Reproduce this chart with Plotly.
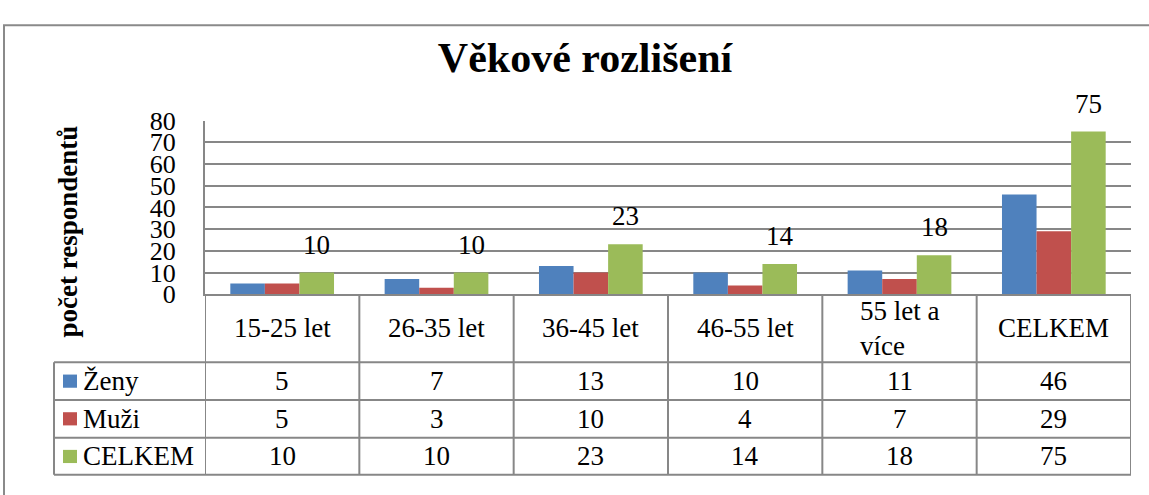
import plotly.graph_objects as go

# ---- data ----
categories = ["15-25 let", "26-35 let", "36-45 let", "46-55 let", "55 let a více", "CELKEM"]
header_labels = ["15-25 let", "26-35 let", "36-45 let", "46-55 let", "55 let a<br>více", "CELKEM"]
series_names = ["Ženy", "Muži", "CELKEM"]
zeny = [5, 7, 13, 10, 11, 46]
muzi = [5, 3, 10, 4, 7, 29]
celkem = [10, 10, 23, 14, 18, 75]
y_ticks = [0, 10, 20, 30, 40, 50, 60, 70, 80]

colors = ["#4F81BD", "#C0504D", "#9BBB59"]
series_values = [zeny, muzi, celkem]

W, H = 1149, 495
FONT = "Liberation Serif"
GRID = "#878787"

def px(x):
    return x / W

def py(y):
    return 1 - y / H

plot_x0, plot_x1 = 205, 1131
plot_y_top, plot_y_bot = 113.3, 297.7
bargap = 0.328

fig = go.Figure()
for name, vals, col in zip(series_names, series_values, colors):
    fig.add_trace(go.Bar(x=categories, y=vals, name=name, marker=dict(color=col, line=dict(width=0)),
                         showlegend=False, hoverinfo="x+y+name"))

# data labels for the CELKEM series (third bar of each group)
cat_w = (plot_x1 - plot_x0) / len(categories)
bar_w = cat_w * (1 - bargap) / 3
annotations = []
for c, v in zip(categories, celkem):
    annotations.append(dict(x=c, y=v, xref="x", yref="y", text=str(v), showarrow=False,
                            xshift=bar_w, yshift=11, yanchor="bottom",
                            font=dict(family=FONT, size=27, color="black")))

# data table geometry
row_lines = [370, 410, 450, 489.5]
row_centers = [390, 430, 470]
header_center = 334
left_col_x = 54

shapes = []
line_style = dict(color=GRID, width=2)
# outer chart border
shapes.append(dict(type="rect", xref="paper", yref="paper", x0=px(4), x1=px(1170), y0=py(12), y1=py(520),
                   line=dict(color="#8a8a8a", width=2), fillcolor="rgba(0,0,0,0)", layer="below"))
# horizontal table lines
for ry in row_lines:
    shapes.append(dict(type="line", xref="paper", yref="paper", x0=px(left_col_x), x1=px(plot_x1),
                       y0=py(ry), y1=py(ry), line=line_style))
# vertical table lines at category boundaries
for i in range(len(categories) + 1):
    shapes.append(dict(type="line", xref="x", yref="paper", x0=i - 0.5, x1=i - 0.5,
                       y0=py(plot_y_bot), y1=py(row_lines[-1]), line=line_style))
# left border of the legend column
shapes.append(dict(type="line", xref="paper", yref="paper", x0=px(left_col_x), x1=px(left_col_x),
                   y0=py(row_lines[0]), y1=py(row_lines[-1]), line=line_style))

# category header cells
for c, lab in zip(categories, header_labels):
    annotations.append(dict(x=c, y=py(header_center), xref="x", yref="paper", text=lab, showarrow=False,
                            align="left", yanchor="middle",
                            font=dict(family=FONT, size=27, color="black")))
# value cells, legend keys and row labels
for name, vals, col, ry in zip(series_names, series_values, colors, row_centers):
    for c, v in zip(categories, vals):
        annotations.append(dict(x=c, y=py(ry), xref="x", yref="paper", text=str(v), showarrow=False,
                                yanchor="middle", font=dict(family=FONT, size=27, color="black")))
    shapes.append(dict(type="rect", xref="paper", yref="paper", x0=px(63), x1=px(77),
                       y0=py(ry - 7), y1=py(ry + 7), fillcolor=col, line=dict(width=0)))
    annotations.append(dict(x=px(81), y=py(ry), xref="paper", yref="paper", text=name, showarrow=False,
                            xanchor="left", yanchor="middle",
                            font=dict(family=FONT, size=27, color="black")))

# y axis title
annotations.append(dict(x=px(68), y=py(231), xref="paper", yref="paper", text="<b>počet respondentů</b>",
                        textangle=-90, showarrow=False, xanchor="center", yanchor="middle",
                        font=dict(family=FONT, size=27, color="black")))

fig.update_layout(
    width=W, height=H,
    margin=dict(l=0, r=0, t=0, b=0),
    font=dict(family=FONT, color="black"),
    paper_bgcolor="white", plot_bgcolor="white",
    barmode="group", bargap=bargap, bargroupgap=0,
    title=dict(text="<b>Věkové rozlišení</b>", x=px(585), y=py(57), xanchor="center", yanchor="middle",
               font=dict(family=FONT, size=42, color="black")),
    xaxis=dict(domain=[px(plot_x0), px(plot_x1)], type="category", range=[-0.5, len(categories) - 0.5],
               showticklabels=False, showgrid=False, zeroline=False,
               showline=True, linecolor=GRID, linewidth=2, fixedrange=True),
    yaxis=dict(domain=[py(plot_y_bot), py(plot_y_top)], range=[0, 80], tickvals=y_ticks,
               ticktext=[str(t) for t in y_ticks],
               showgrid=True, gridcolor=GRID, gridwidth=2, zeroline=False,
               showline=True, linecolor=GRID, linewidth=2, ticks="", ticklabelstandoff=22,
               tickfont=dict(family=FONT, size=26, color="black"), fixedrange=True),
    shapes=shapes,
    annotations=annotations,
    showlegend=False,
)

fig.write_html("out.html", config={"displayModeBar": False},
               post_script="document.body.style.margin='0';document.body.style.overflow='hidden';")
